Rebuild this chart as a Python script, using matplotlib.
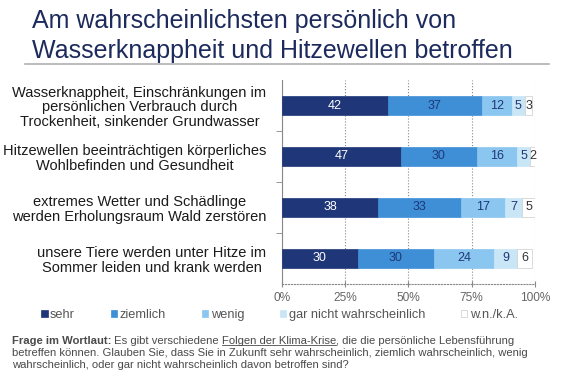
import matplotlib.pyplot as plt
import numpy as np

plt.rcParams["font.family"] = ["Liberation Sans", "DejaVu Sans"]

categories = [
    "Wasserknappheit, Einschränkungen im\npersönlichen Verbrauch durch\nTrockenheit, sinkender Grundwasser",
    "Hitzewellen beeinträchtigen körperliches\nWohlbefinden und Gesundheit",
    "extremes Wetter und Schädlinge\nwerden Erholungsraum Wald zerstören",
    "unsere Tiere werden unter Hitze im\nSommer leiden und krank werden",
]
series_names = ["sehr", "ziemlich", "wenig", "gar nicht wahrscheinlich", "w.n./k.A."]
sehr = [42, 47, 38, 30]
ziemlich = [37, 30, 33, 30]
wenig = [12, 16, 17, 24]
gar_nicht = [5, 5, 7, 9]
wnka = [3, 2, 5, 6]
xtick_labels = ["0%", "25%", "50%", "75%", "100%"]

colors = ["#1f3778", "#3f8fd6", "#8ac6ef", "#c9e6f7", "#ffffff"]
text_colors = ["white", "#1f3778", "#1f3778", "#1f3778", "#333333"]

fig = plt.figure(figsize=(5.66, 3.74), dpi=100)
ax = fig.add_axes([0.498, 0.241, 0.447, 0.545])

y = np.arange(len(categories))
left = np.zeros(len(categories))
for vals, name, col, tcol in zip([sehr, ziemlich, wenig, gar_nicht, wnka],
                                 series_names, colors, text_colors):
    vals = np.array(vals)
    ax.barh(y, vals, left=left, height=0.38, color=col, label=name,
            edgecolor="#cccccc" if col == "#ffffff" else col, linewidth=0.5, zorder=3)
    for yi, v, l in zip(y, vals, left):
        ax.text(l + v / 2, yi, str(v), ha="center", va="center",
                color=tcol, fontsize=9, zorder=4)
    left = left + vals

ax.set_ylim(3.5, -0.5)
ax.set_xlim(0, 100)
ax.set_xticks([0, 25, 50, 75, 100])
ax.set_xticklabels(xtick_labels, color="#666666", fontsize=8.6)
ax.set_yticks(y)
ax.set_yticklabels(categories, fontsize=10.5, color="#1a1a1a", multialignment="center",
                   linespacing=1.08)
ax.set_yticks([0.5, 1.5, 2.5], minor=True)
ax.tick_params(axis="y", which="major", length=0, pad=11)
ax.tick_params(axis="y", which="minor", length=4, color="#888888", direction="out")
ax.tick_params(axis="x", length=4, color="#888888", direction="inout", pad=4)
ax.xaxis.grid(True, linestyle=":", color="#888888", linewidth=0.8, zorder=0)
for s in ["top", "right"]:
    ax.spines[s].set_visible(False)
ax.spines["left"].set_color("#888888")
ax.spines["bottom"].set_color("#888888")
ax.spines["bottom"].set_linestyle(":")

fig.text(0.056, 0.944, "Am wahrscheinlichsten persönlich von", fontsize=18,
         color="#1c2a5c", va="center")
fig.text(0.056, 0.864, "Wasserknappheit und Hitzewellen betroffen", fontsize=18,
         color="#1c2a5c", va="center")
fig.add_artist(plt.Line2D([0.044, 0.97], [0.829, 0.829], color="#b0b0b0", linewidth=1.2))

handles, labels = ax.get_legend_handles_labels()
leg = fig.legend(handles, labels, loc="center", bbox_to_anchor=(0.494, 0.158), ncol=5,
                 frameon=False, fontsize=9.2, handlelength=0.5, handleheight=0.5,
                 handletextpad=0.2, columnspacing=2.8)
for t in leg.get_texts():
    t.set_color("#555555")

fn_color = "#4a4a4a"
fs = 8.1
fig.canvas.draw()
renderer = fig.canvas.get_renderer()
x0 = 0.021
parts = [("Frage im Wortlaut:", "bold", False), (" Es gibt verschiedene ", "normal", False),
         ("Folgen der Klima-Krise", "normal", True),
         (", die die persönliche Lebensführung", "normal", False)]
xx = x0
for txt, w, ul in parts:
    tt = fig.text(xx, 0.081, txt, fontsize=fs, color=fn_color, weight=w)
    bb = tt.get_window_extent(renderer).transformed(fig.transFigure.inverted())
    if ul:
        fig.add_artist(plt.Line2D([bb.x0, bb.x1], [0.077, 0.077],
                                  color=fn_color, linewidth=0.6))
    xx = bb.x1
fig.text(x0, 0.049, "betreffen können. Glauben Sie, dass Sie in Zukunft sehr wahrscheinlich, "
         "ziemlich wahrscheinlich, wenig", fontsize=fs, color=fn_color)
fig.text(x0, 0.017, "wahrscheinlich, oder gar nicht wahrscheinlich davon betroffen sind?",
         fontsize=fs, color=fn_color)

fig.savefig("out.png", dpi=100)
